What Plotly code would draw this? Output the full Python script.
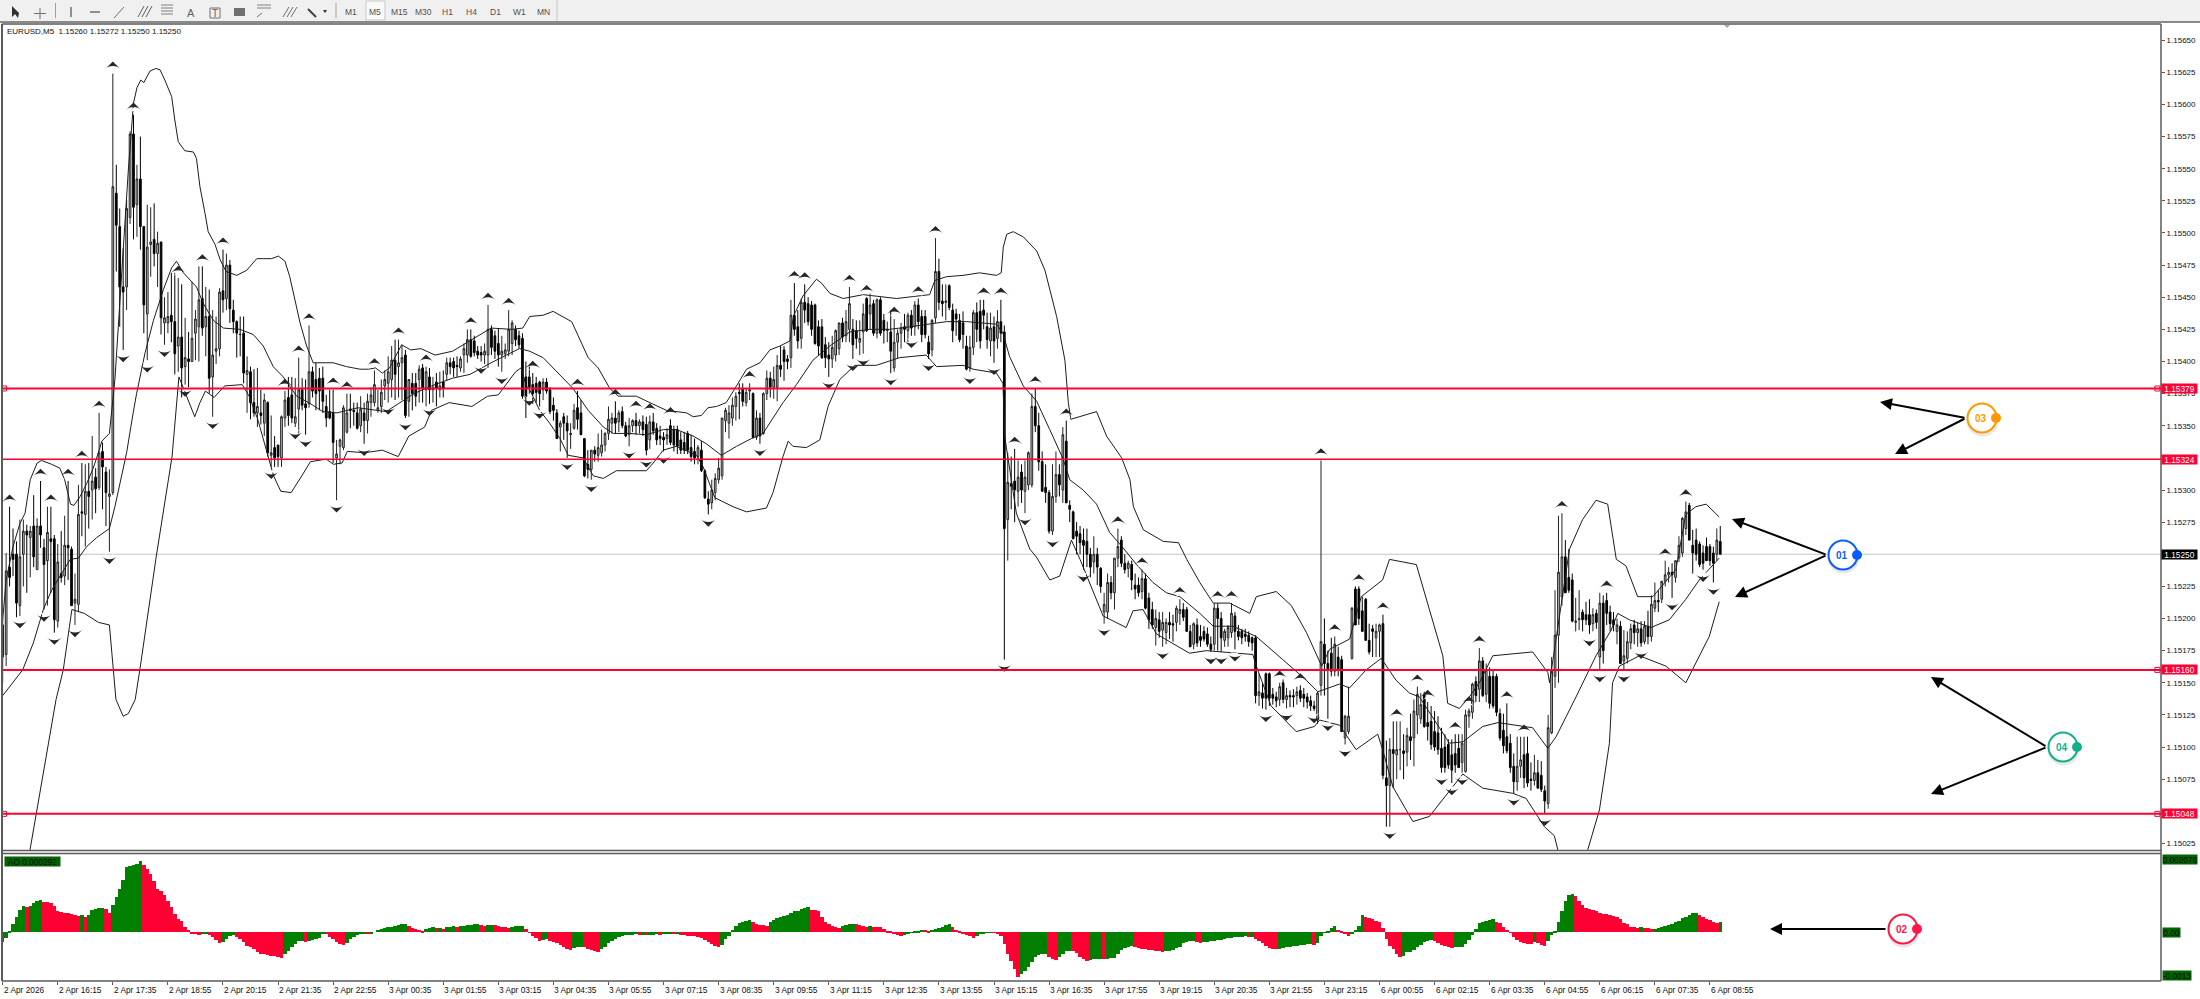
import plotly.graph_objects as go

# ---- prices are in points above 1.15000 (1 point = 0.00001) ----
BASE = 1.15
POINT = 1e-5

# (open, high, low, close) read bar by bar, 50 bars per block
BARS_A = [(170,200,150,195),(172,251,163,237),(240,287,225,232),(250,270,233,246),(250,260,201,212),(210,277,202,248),(250,277,225,268),(268,273,220,265),(263,272,232,268),(272,296,240,248),
(238,278,238,272),(272,307,255,265),(255,262,207,242),(245,287,210,267),(262,287,220,260),(262,265,189,199),(198,258,193,244),(235,268,228,232),(233,280,226,257),(257,307,230,255),
(254,256,210,210),(212,235,195,215),(211,304,205,281),(283,321,264,282),(281,320,256,299),(299,321,270,295),(300,342,277,307),(310,317,282,301),(302,360,300,329),(330,337,285,318),
(314,318,272,298),(295,316,252,297),(298,624,296,536),(531,553,470,506),(505,519,427,458),(458,488,409,454),(458,526,440,519),(512,579,507,577),(577,592,495,520),(522,553,497,542),
(542,575,487,505),(505,505,422,444),(437,522,401,489),(491,520,466,493),(495,523,474,484),(484,501,458,492),(493,493,421,434),(430,450,413,434),(430,454,422,435),(436,469,415,431)]
BARS_B = [(431,469,390,406),(412,465,392,419),(419,460,372,395),(396,434,382,403),(402,423,380,400),(400,462,400,418),(422,440,401,433),(427,474,400,448),(449,474,420,426),(427,458,404,435),
(435,456,375,387),(388,440,357,405),(408,435,398,410),(410,457,404,454),(455,487,438,448),(449,484,440,475),(475,479,430,441),(440,448,422,431),(431,432,403,422),(421,435,404,421),
(422,435,383,391),(390,404,360,393),(392,396,355,368),(368,394,357,360),(360,395,349,365),(360,378,351,358),(352,375,342,370),(368,369,326,329),(327,358,318,329),(333,342,318,325),
(335,335,318,326),(325,358,318,357),(356,377,349,370),(372,388,350,358),(374,388,352,356),(352,387,349,357),(363,403,344,378),(378,387,362,366),(367,386,343,364),(367,428,364,392),
(392,396,372,377),(386,399,362,375),(387,395,362,377),(387,396,360,369),(365,374,349,356),(361,378,355,356),(360,378,321,337),(325,339,292,328),(334,340,320,339),(333,366,331,364)]
BARS_C = [(345,375,344,360),(363,375,348,362),(362,368,350,361),(360,368,347,348),(350,373,345,363),(360,368,336,354),(354,375,344,369),(368,380,357,374),(368,393,365,382),(362,378,360,364),
(365,386,360,376),(381,393,370,386),(383,404,368,392),(386,412,372,401),(401,417,370,390),(396,417,372,399),(399,413,370,403),(405,409,356,358),(369,386,357,386),(383,391,362,375),
(383,391,365,373),(386,397,368,394),(395,398,368,379),(378,396,365,392),(388,395,367,378),(378,388,368,380),(384,391,365,379),(378,392,372,381),(384,393,372,379),(390,403,385,399),
(399,403,390,396),(400,403,388,395),(397,404,388,396),(395,404,392,402),(405,414,391,410),(405,425,399,417),(417,425,403,404),(416,420,404,407),(408,412,402,405),(407,412,400,405),
(405,414,398,408),(405,444,395,425),(425,428,405,411),(420,424,402,408),(414,426,396,405),(405,420,392,408),(406,414,402,409),(408,440,404,425),(414,432,405,430),(425,428,412,417)]
BARS_D = [(420,424,410,413),(418,422,371,373),(388,400,356,372),(388,396,375,380),(382,391,367,375),(383,388,368,376),(384,385,365,375),(378,387,370,384),(384,387,375,377),(378,380,359,361),
(366,372,354,362),(360,363,340,340),(349,354,330,352),(357,360,339,352),(352,358,325,346),(343,352,332,344),(348,367,347,362),(364,377,347,355),(360,370,343,343),(340,340,310,311),
(320,331,309,316),(316,331,308,331),(331,334,322,328),(327,344,322,333),(329,347,326,335),(335,345,330,344),(344,365,339,355),(352,360,344,356),(356,369,344,352),(353,362,345,360),
(361,365,348,350),(350,353,341,342),(343,356,334,350),(350,355,345,354),(354,360,343,350),(350,355,344,353),(353,358,342,347),(351,357,327,331),(339,358,332,353),(353,360,343,346),
(348,352,335,339),(342,350,335,340),(341,345,330,339),(340,348,335,343),(350,355,335,337),(347,350,330,335),(347,350,328,334),(339,345,328,331),(337,345,328,331),(344,346,328,331)]
BARS_E = [(333,343,322,326),(330,340,320,325),(326,335,320,333),(331,338,314,315),(315,316,293,294),(293,299,281,289),(290,308,285,300),(298,313,292,309),(308,325,305,317),(311,356,308,356),
(354,364,345,362),(352,366,340,360),(356,372,350,366),(365,376,354,373),(376,383,355,375),(379,383,365,369),(368,379,365,376),(377,383,370,378),(375,376,340,341),(341,362,339,356),
(356,360,336,342),(344,376,343,375),(375,393,370,387),(387,392,372,380),(380,396,371,386),(380,405,369,397),(397,412,388,394),(409,412,385,400),(402,405,394,400),(403,448,395,436),
(436,461,420,425),(427,440,410,416),(418,449,410,446),(446,460,430,440),(445,450,428,431),(444,447,420,425),(444,445,413,414),(427,432,405,412),(427,433,402,403),(413,419,395,403),
(405,415,388,402),(402,420,395,411),(405,425,400,424),(410,430,405,430),(430,434,415,419),(420,440,415,431),(425,458,415,445),(425,433,402,413),(424,432,410,418),(415,432,405,418)]
BARS_F = [(423,445,406,437),(449,450,423,424),(437,453,425,444),(445,448,420,422),(422,449,418,448),(448,450,420,422),(432,437,414,424),(424,431,415,425),(423,440,391,408),(395,433,392,415),
(415,425,402,422),(422,430,410,426),(427,437,415,425),(424,438,415,436),(436,440,420,426),(427,447,420,444),(444,449,425,431),(435,440,415,421),(435,440,418,421),(415,420,402,406),
(409,433,404,432),(434,496,430,470),(470,480,440,446),(447,460,435,445),(446,460,432,447),(459,460,440,442),(440,445,415,424),(437,441,420,433),(432,437,415,417),(430,439,410,421),
(412,420,393,394),(395,420,392,411),(411,440,405,438),(438,446,415,425),(439,448,410,416),(440,448,425,436),(427,438,410,417),(416,438,404,426),(427,435,399,416),(418,440,410,431),
(431,448,415,422),(423,428,168,270),(277,329,245,306),(305,326,285,303),(307,332,275,300),(299,323,287,310),(314,320,290,300),(299,323,282,310),(304,330,300,329),(304,375,302,365)]
BARS_G = [(365,379,345,350),(350,360,315,322),(322,330,299,299),(302,320,290,298),(298,300,266,268),(268,320,265,295),(295,330,290,312),(312,320,295,304),(300,349,290,343),(338,354,290,290),
(288,292,275,285),(283,284,262,262),(268,275,250,264),(266,272,250,259),(261,270,238,257),(260,270,240,250),(250,255,232,240),(244,264,235,250),(250,255,226,240),(239,240,220,225),
(205,220,196,211),(205,235,200,228),(228,233,215,220),(220,247,207,247),(247,270,240,256),(261,264,240,243),(243,250,235,238),(239,245,232,243),(242,245,222,230),(226,235,215,223),
(226,232,217,220),(221,238,215,231),(231,235,207,208),(216,220,192,199),(207,213,192,195),(193,207,179,200),(199,205,185,190),(191,205,178,197),(189,200,180,197),(197,205,184,195),
(196,203,182,195),(197,210,190,208),(204,215,195,207),(207,212,198,201),(207,209,190,190),(190,195,178,178),(180,197,176,196),(195,200,178,181),(186,195,178,183),(190,194,182,184)]
BARS_H = [(188,193,178,180),(180,186,174,176),(180,212,175,208),(208,212,175,200),(200,205,174,185),(183,192,178,190),(185,195,178,193),(189,212,185,204),(202,205,176,190),(190,195,183,186),
(190,192,180,185),(188,192,182,186),(187,190,178,182),(185,186,175,181),(185,187,134,140),(140,157,132,143),(142,150,130,138),(157,158,129,138),(157,158,132,138),(141,146,133,138),
(139,143,131,136),(137,150,132,147),(150,153,134,137),(137,146,130,140),(140,144,131,139),(140,145,131,139),(140,147,133,143),(144,148,135,138),(141,146,131,138),(139,142,130,135),
(136,140,128,132),(132,136,128,130),(121,143,118,142),(148,323,140,182),(180,200,140,165),(165,175,122,160),(173,185,155,159),(159,186,155,180),(170,178,155,160),(168,171,112,112),
(107,125,102,124),(112,147,110,124),(169,209,168,208),(223,225,195,195),(223,225,195,200),(206,217,190,190),(215,216,183,183),(183,196,172,174),(192,195,170,190),(185,196,170,190)]
BARS_I = [(190,196,170,195),(196,203,75,78),(76,105,38,70),(70,107,38,98),(98,120,68,95),(94,120,75,98),(98,120,82,98),(97,110,75,95),(96,115,85,109),(108,126,90,105),
(107,137,85,128),(125,147,110,141),(122,142,118,133),(141,143,115,116),(119,135,105,116),(120,132,98,102),(112,128,97,100),(111,124,94,98),(99,115,80,84),(100,110,80,84),
(102,106,83,86),(94,106,72,82),(95,110,80,86),(99,110,84,84),(88,110,80,103),(81,129,80,125),(124,130,115,128),(127,150,122,149),(151,155,135,140),(145,177,135,167),
(167,170,139,140),(141,165,135,160),(155,162,130,134),(155,160,130,132),(155,157,124,127),(126,130,105,107),(113,126,95,101),(108,134,95,97),(103,110,80,84),(85,95,64,73),
(73,108,66,85),(85,108,76,90),(94,108,68,76),(95,108,69,72),(75,88,66,74),(74,94,70,80),(80,90,68,68),(78,89,65,67),(66,70,48,58),(56,125,52,115)]
BARS_J = [(111,170,110,159),(155,222,146,187),(187,280,150,236),(217,282,210,248),(248,261,220,220),(232,254,220,222),(230,235,197,198),(197,216,190,198),(199,222,191,200),(205,207,190,199),
(203,213,195,199),(203,215,188,195),(196,208,190,203),(204,207,192,197),(170,220,160,212),(212,218,165,175),(214,220,195,204),(205,210,190,196),(199,205,190,195),(190,200,180,195),
(194,198,165,165),(167,191,160,171),(169,190,165,182),(181,196,176,192),(195,199,180,189),(189,197,178,192),(192,198,178,181),(182,198,180,194),(194,206,180,186),(186,218,182,211),
(208,228,205,214),(214,222,205,213),(215,229,212,229),(229,245,225,234),(234,240,228,236),(236,243,216,234),(232,245,228,245),(247,264,244,257),(251,279,248,278),(270,291,265,283),
(288,290,261,261),(257,269,235,251),(261,270,245,250),(258,260,240,242),(251,257,238,243),(256,263,245,245),(256,258,241,245),(251,256,228,243),(250,270,245,261),(260,272,250,250)]

# Bollinger bands: (bar index, points) vertices
BB_UP_I = [0,1,3,5,6.5,8,10,11.3,14.2,16.6,18,19,19.7,20.7,22.5,24.4,26.3,27.8,28.8,31,31.6,32.6,36.5,38,39,40.1,41,42.8,44.5,45.7,47.1,49.1,50,51,52.9,55.4,56.3,57.3,58.8,59.7,61.7,63.2,64.9,68,70.9,73.8,75.7,78.1,80.1,82,83.4,84.9,86.4,88.3,90.2,92.2,96,99.9,103.8,106.3,108.3,110.3,112.4,115.9,118.5,121.5,125.6,130.7,135.8,141.9,148,151.1,153.1,157,159.9,162.8,165.3,167.2,170.1,173,176.4,178.8,184.1,188,192.8,198.7,200.6,203,204.9,207.4,210.2,213.2,216.1,220,222.9,225.8,228.7,229.7,232.5,236.4,237.9,240.3,244.2,250,259.7,269.3,270.1,270.8,274.2,279,283.8,288.7,290.1,290.7,291.7,293.6,296.5,300.4,302.8,306.2,308.6,309.6,310.3,313,317.8,320.7,325.1,327.5,328.5,331.4,337.2,341.6,344,347.8,351.7,356.5,362.3,364.2,370,374.4,378.8,383.2,385.5,391.3,394.7,400.9,402.9,410.7,414.5,418.4,419.8,423.2,426.1,429,432.9,444.5,448.9,449.4,455.2,459,462.9,466.3,468.8,471.6,475,479.4,486.1,489,491.9,494.9,498.7]
BB_UP_V = [199,230,256,274,282,308,321,323,320,317,308,298,289,288,295,305,317,329,338,344,360,386,549,601,613,619,617,626,628,627,619,606,588,571,564,563,558,536,515,501,491,479,470,467,471,480,480,480,482,478,466,448,430,412,399,399,399,396,394,394,395,391,395,413,409,410,405,408,416,426,425,426,435,436,439,435,431,420,403,395,379,373,373,368,362,360,357,358,364,365,368,381,394,399,409,412,416,435,451,464,461,453,449,452,449,452,458,463,466,467,469,467,469,489,499,501,497,486,471,435,401,368,355,357,361,342,325,308,287,269,260,259,246,228,212,212,204,217,221,210,189,163,176,184,217,230,246,242,207,171,134,130,139,150,171,174,158,150,254,277,292,289,246,241,217,217,238,281,287,289,279]
BB_MID_I = [0,5.3,5.8,8.9,11.8,14.2,17.1,19.6,22,24.4,27.3,31,32.6,34.6,36,37.9,38.9,41.3,43.8,46.7,49.1,50.5,52.5,56.3,58.3,61.2,64.1,68.9,72.8,75.7,78.6,81.5,85.4,88.9,93,97.1,103.2,111.4,115.4,119.5,124.6,130.7,135.8,141.9,150.1,152.1,153.1,157,160.9,165.7,170.1,174.5,177.4,182.2,187,191.9,195.7,200.6,204.4,208.8,213.2,217.5,220.9,226.7,230.6,235.4,240.3,246.1,251.9,257.7,263.5,269.3,274.2,280,288.7,290.6,292.5,296.5,300.4,304.2,308.1,310,313.9,317.8,321.6,325.5,329.4,334.2,338.1,342,347.8,351.7,357.4,364.2,370,371.9,378.7,382.1,388.4,391.3,396.1,400.5,404.8,408.7,411.6,416.5,420.3,424.2,430,434.4,439.7,444.5,448.9,451.3,457.1,462.9,467.3,469.2,472.6,478.9,484.2,489,492.9,498.7]
BB_MID_V = [140,158,160,181,207,222,235,246,247,256,263,270,287,311,329,360,375,406,432,456,473,478,469,458,445,432,426,425,421,412,396,388,373,368,361,360,364,361,368,375,381,387,390,399,410,409,408,403,392,379,362,349,344,344,343,347,347,342,336,327,334,340,344,368,382,401,412,423,425,425,427,429,431,431,429,422,404,381,369,347,324,308,300,289,267,255,242,228,220,217,204,194,194,186,173,168,152,143,149,146,160,169,152,142,139,119,103,104,116,119,117,115,99,108,139,171,191,204,199,193,199,215,230,247]
BB_LOW_I = [6,15.5,17.6,20,20.1,23.7,27.8,31,32,32.9,35,36.5,38.5,40,44.6,49.2,51.2,52.7,55.8,57.3,58.9,61.4,64.5,69.6,71.6,74.1,76.7,78.7,80.8,83.8,86.9,89.4,94,96.1,98.6,100.1,105.2,110.3,114.9,118,122.6,124.6,129.7,136.3,140.9,144,149,150.6,152.1,153.1,156,158.9,161.9,164.3,168.6,171.6,174.5,178.3,187,189,191.9,195.7,201.6,203.5,206.9,212.2,216.1,221.9,223.8,226.7,228.2,229.6,233.5,237.4,239.8,243.2,247.6,253.8,260.6,268.3,271.3,279,281.9,288.7,290.6,291.1,294.5,298.4,300.3,304.2,307.1,310.5,313,319.7,326.4,328.4,331.3,335.2,344.8,349.7,363.2,364.2,368.5,375.8,381.1,382.6,388.4,393.2,399.5,400.9,403.9,409.7,414.5,419.3,424.2,430,438.7,442.6,447.9,450.8,451.8,457,460.5,463.9,466.8,467.7,469.7,475.5,483.2,489,491.9,495.8,498.7]
BB_LOW_V = [-10,137,160,206,207,204,197,195,163,137,124,126,137,163,248,326,388,378,357,368,377,372,381,382,373,355,331,311,299,298,311,322,324,320,321,330,329,331,326,342,349,362,368,365,373,374,392,395,381,378,362,352,340,327,325,311,309,315,315,321,331,334,327,318,294,287,283,286,298,326,338,334,333,339,365,386,397,397,403,405,396,397,394,391,383,342,282,254,248,230,233,261,246,202,193,206,207,188,173,175,172,163,132,112,116,121,117,98,110,98,69,42,46,62,79,68,64,60,38,31,20,-5,20,51,103,150,163,171,163,150,165,186,213]

# Awesome Oscillator, in steps of 0.966e-5
AO_UNIT = 0.966e-5
AO_A = [-30,-17,3,25,47,67,80,77,78,89,95,96,92,90,89,80,63,61,59,57,55,53,49,51,47,53,68,71,72,74,69,59,82,105,130,157,197,200,203,205,215,203,190,175,153,130,123,112,95,75,
55,39,35,17,7,-3,-6,-9,-5,-3,-8,-15,-23,-33,-30,-20,-10,-7,-13,-20,-30,-40,-45,-50,-58,-64,-65,-68,-70,-72,-75,-76,-65,-55,-43,-35,-27,-26,-30,-27,-23,-19,-16,-4,-6,-15,-20,-30,-35,-37]
AO_B = [-33,-20,-13,-8,-5,-4,-5,-3,0,7,11,14,15,17,19,22,25,26,18,13,10,7,5,10,13,15,12,13,11,15,17,18,15,19,20,21,23,25,26,23,19,21,22,21,20,17,15,13,17,18,
19,20,10,-1,-10,-17,-25,-23,-21,-27,-29,-33,-39,-45,-50,-53,-47,-45,-43,-45,-49,-53,-57,-58,-50,-43,-33,-27,-21,-15,-11,-9,-8,-7,-6,-8,-7,-8,-7,-7,-6,-7,-6,-6,-5,-6,-5,-7,-9,-10]
AO_C = [-11,-12,-13,-18,-23,-30,-35,-41,-45,-37,-21,-10,7,18,27,31,34,36,32,26,23,21,20,30,37,43,47,49,53,58,63,65,70,74,75,68,67,65,47,31,25,19,15,13,18,21,25,26,25,23,
20,17,18,17,16,15,11,5,1,-5,-9,-11,-9,-5,-2,1,5,7,6,4,7,10,14,17,21,26,15,7,3,-3,-8,-12,-16,-10,-5,-3,-2,-1,-2,-5,-10,-35,-65,-87,-110,-133,-125,-117,-105,-90]
AO_D = [-75,-67,-65,-64,-75,-81,-83,-75,-65,-57,-55,-57,-63,-73,-80,-85,-83,-81,-80,-79,-80,-79,-78,-77,-65,-53,-47,-43,-40,-45,-48,-50,-51,-52,-53,-55,-57,-58,-57,-55,-52,-48,-43,-32,-28,-27,-26,-29,-31,-30,
-29,-27,-25,-23,-22,-20,-18,-16,-15,-14,-13,-12,-15,-14,-20,-25,-31,-40,-46,-49,-50,-49,-46,-45,-43,-41,-40,-38,-37,-35,-34,-37,-31,-10,-1,3,13,20,7,2,-3,-10,-5,7,20,51,47,43,39,35]
AO_E = [30,13,-20,-40,-50,-65,-75,-70,-60,-58,-53,-45,-37,-30,-25,-23,-27,-32,-37,-41,-45,-46,-45,-44,-43,-35,-23,-9,10,27,32,35,38,39,31,27,17,7,-2,-15,-23,-28,-33,-34,-34,-30,-31,-37,-40,-25,
-7,3,30,65,95,113,114,108,95,83,72,69,67,63,58,56,54,53,50,47,41,29,25,17,15,14,15,13,12,10,11,14,17,19,23,25,30,35,42,46,53,58,59,53,45,40,37,32,29,30]

LEVELS = [1.15379, 1.15324, 1.15160, 1.15048]
LAST_PRICE = 1.15250
Y_TICKS = [1.15025 + 0.00025 * k for k in range(26)]
TIME_TICK_LABELS = ["2 Apr 2026","2 Apr 16:15","2 Apr 17:35","2 Apr 18:55","2 Apr 20:15","2 Apr 21:35","2 Apr 22:55",
    "3 Apr 00:35","3 Apr 01:55","3 Apr 03:15","3 Apr 04:35","3 Apr 05:55","3 Apr 07:15","3 Apr 08:35","3 Apr 09:55",
    "3 Apr 11:15","3 Apr 12:35","3 Apr 13:55","3 Apr 15:15","3 Apr 16:35","3 Apr 17:55","3 Apr 19:15","3 Apr 20:35",
    "3 Apr 21:55","3 Apr 23:15","6 Apr 00:55","6 Apr 02:15","6 Apr 03:35","6 Apr 04:55","6 Apr 06:15","6 Apr 07:35","6 Apr 08:55"]
TICK_EVERY = 16

FRACTAL_UP = [2,11,14,19,23,28,32,38,51,58,64,82,86,89,96,100,108,115,123,136,141,147,154,167,178,184,188,194,217,230,233,246,251,259,266,271,285,290,294,300,309,324,331,342,353,357,371,377,383,387,394,401,405,411,414,422,426,429,437,442,453,466,483,489]
FRACTAL_DOWN = [5,12,15,21,31,35,42,47,53,61,78,85,88,97,105,112,117,124,139,145,153,156,164,171,182,187,192,205,220,240,247,250,258,264,269,281,288,291,297,305,314,320,337,351,354,358,367,373,381,385,390,403,418,421,424,439,448,461,464,471,476,485,494,497]

bars = BARS_A + BARS_B + BARS_C + BARS_D + BARS_E + BARS_F + BARS_G + BARS_H + BARS_I + BARS_J
ao_raw = AO_A + AO_B + AO_C + AO_D + AO_E

W, H = 2200, 999
px = lambda x: x / W
py = lambda y: 1 - y / H
price = lambda v: BASE + v * POINT

idx = list(range(len(bars)))
O = [price(b[0]) for b in bars]
Hi = [price(b[1]) for b in bars]
Lo = [price(b[2]) for b in bars]
C = [price(b[3]) for b in bars]
ao = [v * AO_UNIT for v in ao_raw]

RED = "#ff0033"
GREEN = "#007f00"
FONT = "Liberation Sans"
AXC = "#5a5a5a"

ao_colors = []
prev = None
for k, v in enumerate(ao_raw):
    if k == 0 or v > ao_raw[k - 1]:
        prev = GREEN
    elif v < ao_raw[k - 1]:
        prev = RED
    ao_colors.append(prev)

fig = go.Figure()
for name, xs, vs in [("BB up", BB_UP_I, BB_UP_V), ("BB mid", BB_MID_I, BB_MID_V), ("BB low", BB_LOW_I, BB_LOW_V)]:
    fig.add_trace(go.Scatter(x=xs, y=[price(v) for v in vs], mode="lines", name=name,
                             line=dict(color="#1c1c1c", width=1), hoverinfo="skip"))
fig.add_trace(go.Candlestick(x=idx, open=O, high=Hi, low=Lo, close=C, name="EURUSD,M5", whiskerwidth=0,
    increasing=dict(line=dict(color="#222222", width=1), fillcolor="#c8c8c8"),
    decreasing=dict(line=dict(color="#000000", width=1), fillcolor="#000000")))
# fractal arrows: a dark head with a white notch cut out of its base
FR_GAP = 9.5
FR_NOTCH = 4
fig.add_trace(go.Scatter(x=FRACTAL_UP, y=[Hi[k] + FR_GAP * POINT for k in FRACTAL_UP], mode="markers", name="up",
    marker=dict(symbol="arrow-wide", size=11, color="#262626", angle=0, line=dict(width=0))))
fig.add_trace(go.Scatter(x=FRACTAL_UP, y=[Hi[k] + (FR_GAP - FR_NOTCH) * POINT for k in FRACTAL_UP], mode="markers", name="up notch",
    marker=dict(symbol="arrow-wide", size=8, color="white", angle=0, line=dict(width=0))))
fig.add_trace(go.Scatter(x=FRACTAL_DOWN, y=[Lo[k] - FR_GAP * POINT for k in FRACTAL_DOWN], mode="markers", name="down",
    marker=dict(symbol="arrow-wide", size=11, color="#262626", angle=180, line=dict(width=0))))
fig.add_trace(go.Scatter(x=FRACTAL_DOWN, y=[Lo[k] - (FR_GAP - FR_NOTCH) * POINT for k in FRACTAL_DOWN], mode="markers", name="down notch",
    marker=dict(symbol="arrow-wide", size=8, color="white", angle=180, line=dict(width=0))))
fig.add_trace(go.Bar(x=idx, y=ao, width=1, marker=dict(color=ao_colors, line=dict(width=0)), xaxis="x2", yaxis="y2", name="AO"))

# line end squares
fig.add_trace(go.Scatter(x=[0.4, 0.4, 626, 626, 626], y=[LEVELS[0], LEVELS[3], LEVELS[0], LEVELS[2], LEVELS[3]],
    mode="markers", marker=dict(symbol="square", size=5, color="white", line=dict(color=RED, width=1)), hoverinfo="skip"))

x_range = [(2 - 2.7) / 3.442, (2161 - 2.7) / 3.442]
tick_idx = [k * TICK_EVERY for k in range(len(TIME_TICK_LABELS))]

shapes = []
def line(x0, y0, x1, y1, color=AXC, width=1):
    shapes.append(dict(type="line", xref="paper", yref="paper", x0=px(x0), y0=py(y0), x1=px(x1), y1=py(y1),
                       line=dict(color=color, width=width), layer="above"))
def rect(x0, y0, x1, y1, fill, color=None, width=0, layer="below"):
    shapes.append(dict(type="rect", xref="paper", yref="paper", x0=px(x0), y0=py(y0), x1=px(x1), y1=py(y1),
                       fillcolor=fill, line=dict(color=color or fill, width=width), layer=layer))
def circle(cx, cy, r, fill, color=None, width=0, opacity=1):
    shapes.append(dict(type="circle", xref="paper", yref="paper", x0=px(cx - r), y0=py(cy + r), x1=px(cx + r), y1=py(cy - r),
                       fillcolor=fill, line=dict(color=color or fill, width=width), layer="above", opacity=opacity))

# toolbar
rect(0, 0, W, 21, "#f0f0f0", layer="above")
rect(366, 1, 385, 20, "#fafafa", "#c8c8c8", 1, layer="above")
line(0, 22, W, 22, "#8a8a8a", 2)
line(557, 0, 557, 21, "#c8c8c8", 1)
line(55.5, 3, 55.5, 18, "#a0a0a0", 1)
line(336, 3, 336, 18, "#a0a0a0", 1)
line(40, 8, 40, 19, "#707070", 1); line(34, 13.5, 46, 13.5, "#707070", 1)
line(71, 7, 71, 17, "#707070", 1.5)
line(90, 12, 100, 12, "#707070", 1.5)
line(114, 18, 124, 7, "#707070", 1)
for yy in (5, 8, 11, 14):
    line(161, yy, 173, yy, "#808080", 1)
for dx in (0, 4, 8):
    line(138 + dx, 17, 144 + dx, 6, "#606060", 1)
    line(283 + dx, 17, 289 + dx, 7, "#707070", 1)
for yy in (5, 8):
    line(257, yy, 271, yy, "#808080", 1)
line(257, 17, 262, 13, "#707070", 1)
rect(234, 8, 245, 16, "#707070", layer="above")
rect(210, 8, 220, 18, "#f0f0f0", "#707070", 1, layer="above")
line(308, 9, 316, 17, "#404040", 2)
shapes.append(dict(type="path", xref="paper", yref="paper", layer="above", fillcolor="#303030", line=dict(width=0),
    path=f"M {px(12)} {py(6)} L {px(12)} {py(17)} L {px(15)} {py(14)} L {px(18)} {py(18)} L {px(19)} {py(13)} L {px(18)} {py(12)} Z"))
shapes.append(dict(type="path", xref="paper", yref="paper", layer="above", fillcolor="#303030", line=dict(width=0),
    path=f"M {px(323)} {py(10)} L {px(327)} {py(10)} L {px(325)} {py(13)} Z"))
shapes.append(dict(type="path", xref="paper", yref="paper", layer="above", fillcolor="#a8a8a8", line=dict(width=0),
    path=f"M {px(1724)} {py(25)} L {px(1730)} {py(25)} L {px(1727)} {py(28)} Z"))

# chart frames
line(2, 24, 2161, 24, AXC, 1.5)
line(2, 24, 2, 981, AXC, 2)
line(2, 850.5, 2161, 850.5, AXC, 1.5)
line(2, 853.5, 2161, 853.5, AXC, 1.5)
line(2, 981, 2161, 981, AXC, 1.5)
line(2161, 24, 2161, 981, AXC, 1.5)

# levels
shapes.append(dict(type="line", xref="paper", yref="y", x0=px(3), x1=px(2161), y0=LAST_PRICE, y1=LAST_PRICE,
                   line=dict(color="#c4c4c4", width=1), layer="below"))
for k, lv in enumerate(LEVELS):
    shapes.append(dict(type="line", xref="paper", yref="y", x0=px(3), x1=px(2161), y0=lv, y1=lv,
                       line=dict(color=RED, width=1.5 if k == 1 else 2), layer="above"))

annotations = []
def label(x, y, text, color="#101010", bg=None, anchor="left", size=8.3, bold=False, yref="paper", w=None, h=None):
    a = dict(x=px(x), y=y if yref != "paper" else py(y), xref="paper", yref=yref, text=f"<b>{text}</b>" if bold else text,
             showarrow=False, xanchor=anchor, yanchor="middle", font=dict(family=FONT, size=size, color=color), borderpad=0)
    if bg: a["bgcolor"] = bg
    if w: a["width"] = w
    if h: a["height"] = h
    annotations.append(a)

label(6, 32, "EURUSD,M5  1.15260 1.15272 1.15250 1.15250", size=8)
for i, tf in enumerate(["M1","M5","M15","M30","H1","H4","D1","W1","MN"]):
    label(351 + i * 24.1, 12, tf, color="#505050", anchor="center", size=8.5)
label(191, 13, "A", color="#606060", anchor="center", size=11)
label(215, 13, "T", color="#606060", anchor="center", size=10)

for lv in LEVELS:
    label(2179.5, lv, f"{lv:.5f}", color="white", bg=RED, anchor="center", yref="y", w=35, h=9)
label(2179.5, LAST_PRICE, f"{LAST_PRICE:.5f}", color="white", bg="#000000", anchor="center", yref="y", w=35, h=9)

label(32, 861.5, "AO 0.000292", color="#0a0a0a", bg="#006400", anchor="center", w=55, h=9)
label(2180, 859, "0.002076", color="#0a0a0a", bg="#006400", anchor="center", w=34, h=9)
label(2171.5, 932, "0.00", color="#0a0a0a", bg="#006400", anchor="center", w=17, h=9)
label(2177, 975, "-0.0013", color="#0a0a0a", bg="#006400", anchor="center", w=28, h=9)

for k, t in zip(tick_idx, TIME_TICK_LABELS):
    annotations.append(dict(x=k, y=py(990), xref="x2", yref="paper", text=t, showarrow=False, xanchor="left", yanchor="middle",
                            font=dict(family=FONT, size=8.3, color="#101010"), xshift=-1))

# callouts
def arrow(x0, y0, x1, y1):
    annotations.append(dict(x=px(x1), y=py(y1), xref="paper", yref="paper", ax=x0 - x1, ay=y0 - y1, axref="pixel", ayref="pixel",
                            text="", showarrow=True, arrowhead=2, arrowsize=1.2, arrowwidth=2, arrowcolor="#000000"))
def badge(cx, cy, color, text, targets):
    for (tx, ty) in targets:
        arrow(cx - 16, cy, tx, ty)
    circle(cx + 0.5, cy + 2.5, 16, "#bbbbbb", opacity=0.35)
    circle(cx, cy, 14.5, "white", color, 2)
    circle(cx + 14, cy, 5, color)
    label(cx - 1, cy, text, color=color, anchor="center", size=10, bold=True)

badge(1843, 555, "#0a5cff", "01", [(1732, 519), (1735, 597)])
badge(1903, 929, "#ff1744", "02", [(1770, 929)])
badge(1982, 418, "#ff9800", "03", [(1880, 402), (1895, 454)])
badge(2063, 747, "#12b08a", "04", [(1931, 677), (1931, 794)])

fig.update_layout(
    width=W, height=H, margin=dict(l=0, r=0, t=0, b=0), paper_bgcolor="white", plot_bgcolor="white",
    showlegend=False, bargap=0, shapes=shapes, annotations=annotations, hovermode=False,
    font=dict(family=FONT, size=9, color="#101010"),
    xaxis=dict(domain=[px(2), px(2161)], range=x_range, showgrid=False, zeroline=False, showticklabels=False,
               ticks="", rangeslider=dict(visible=False), anchor="y"),
    yaxis=dict(domain=[py(851), py(24)], range=[price(19.1), price(662.6)], side="right", anchor="x", showgrid=False, zeroline=False,
               tickmode="array", tickvals=Y_TICKS, ticktext=[f"{v:.5f}" for v in Y_TICKS], ticks="outside", ticklen=3,
               tickcolor=AXC, tickfont=dict(family=FONT, size=8, color="#101010")),
    xaxis2=dict(domain=[px(2), px(2161)], range=x_range, showgrid=False, zeroline=False, showticklabels=False,
                tickmode="array", tickvals=tick_idx, ticks="outside", ticklen=3, tickcolor=AXC, anchor="y2"),
    yaxis2=dict(domain=[py(981), py(853.5)], range=[-0.001429, 0.002267], side="right", anchor="x2", showgrid=False, zeroline=False,
                showticklabels=False, ticks=""),
)
fig.write_html("out.html", config={"displayModeBar": False},
               post_script="document.body.style.margin='0';document.body.style.overflow='hidden';")
